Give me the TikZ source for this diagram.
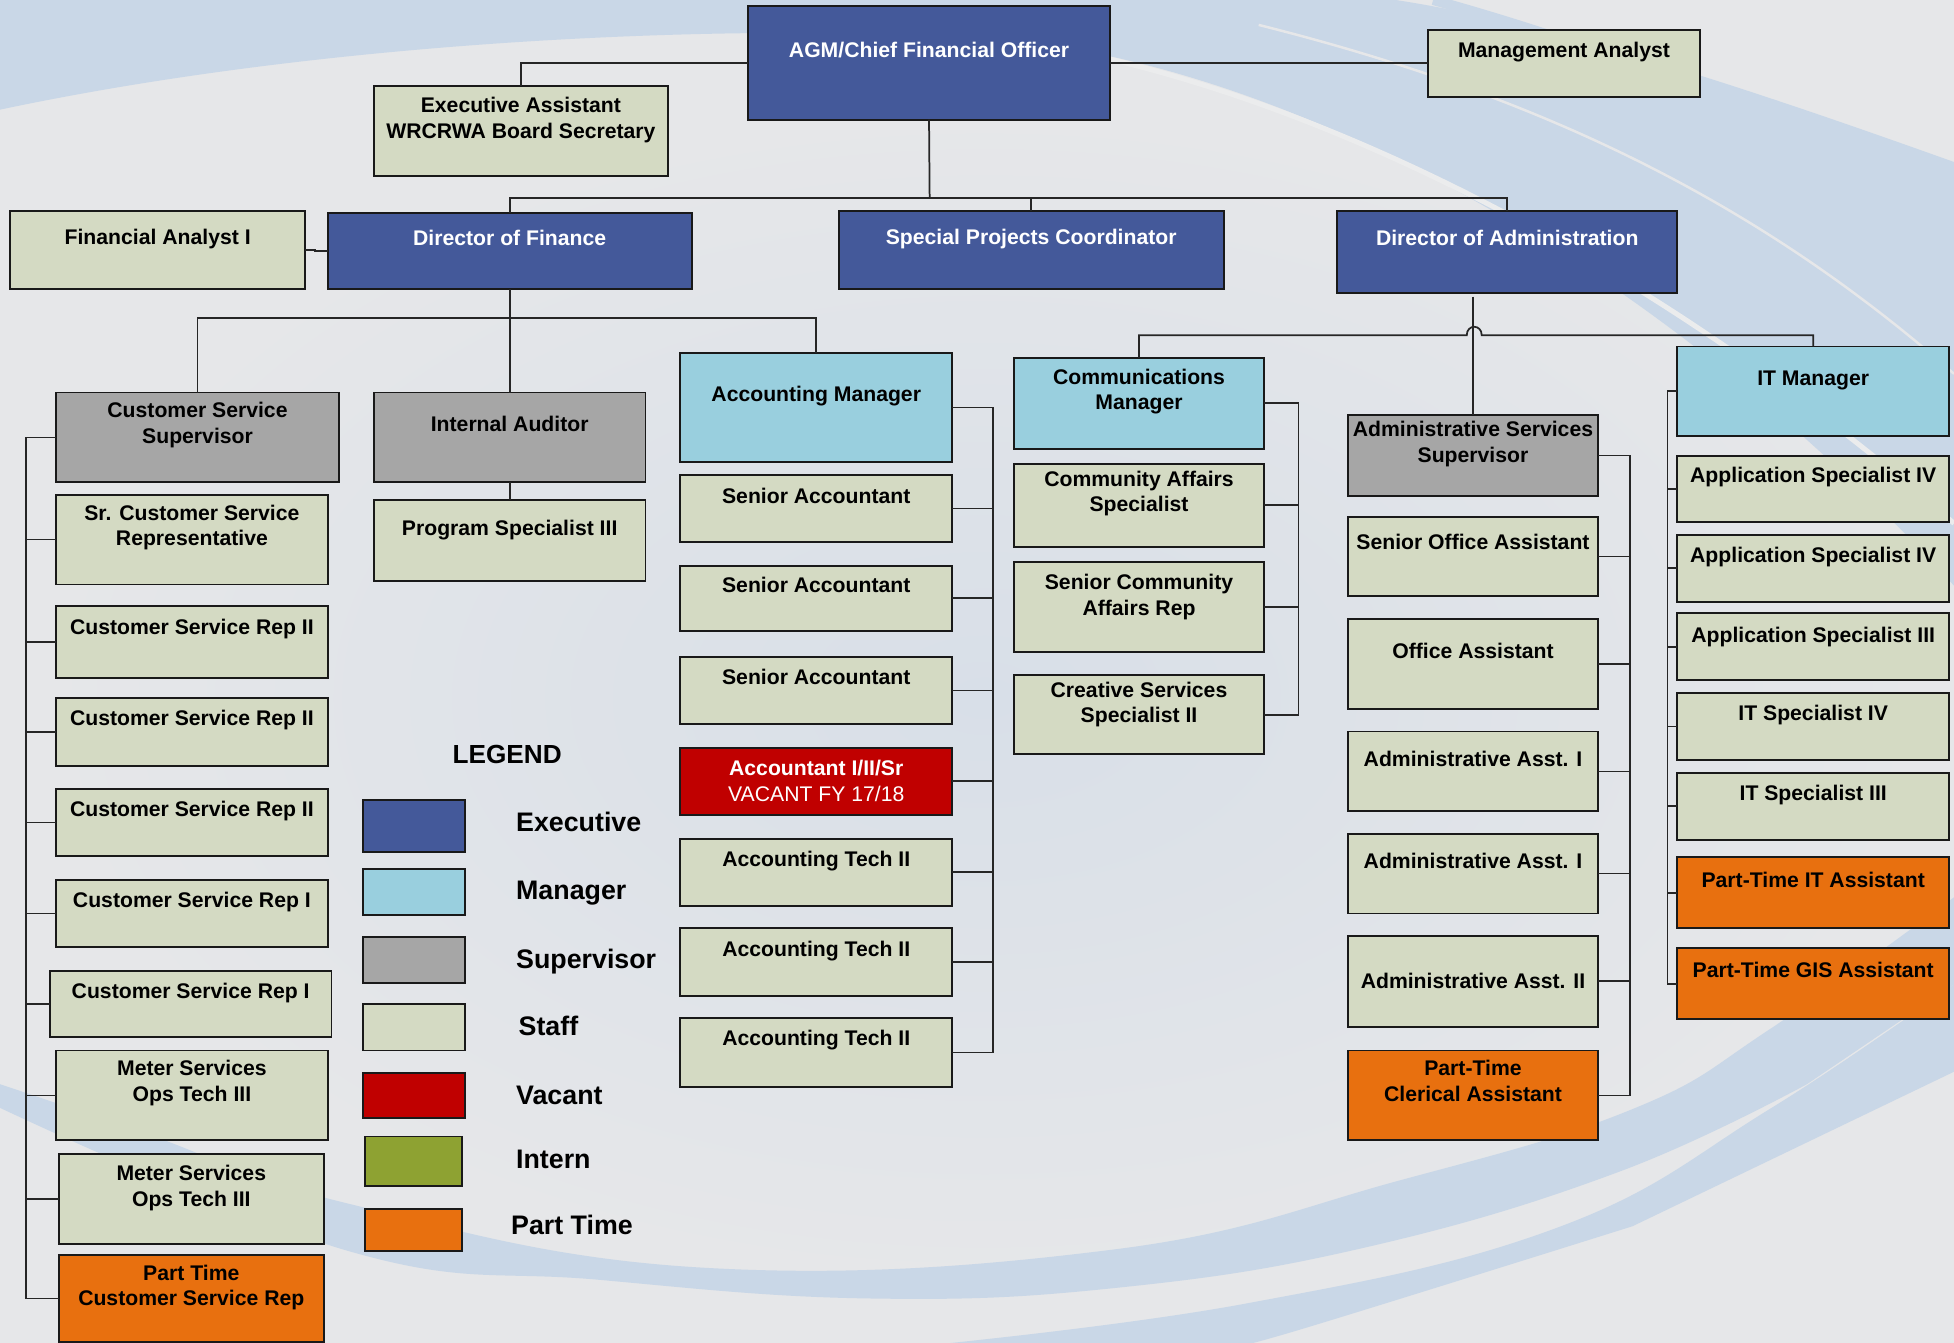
\documentclass[tikz,border=0pt]{standalone}
\usepackage{fontspec}
\setmainfont{Liberation Sans}
\usetikzlibrary{positioning}

\definecolor{execblue}{HTML}{44599A}
\definecolor{mgrblue}{HTML}{99CFDE}
\definecolor{supgray}{HTML}{A6A6A6}
\definecolor{staffgreen}{HTML}{D4DAC3}
\definecolor{vacantred}{HTML}{C00000}
\definecolor{interngreen}{HTML}{8EA232}
\definecolor{ptorange}{HTML}{E8700F}
\definecolor{bgbase}{HTML}{E6E7E9}
\definecolor{bgmid}{HTML}{D8DFE8}
\definecolor{bgband}{HTML}{C9D7E7}

\tikzstyle{line}=[draw=black!85, line width=1.4pt]
\tikzstyle{post}=[rectangle, draw=black!90, line width=1.5pt,
    inner sep=0pt, outer sep=0pt]

\newcommand{\orgbox}[9]{%
  \node[#2, anchor=north west, minimum width={(#6-#4)*1pt},
      minimum height={(#7-#5)*1pt}] (#1) at (#4,#5) {};
  \node[#3, anchor=north] (#1-txt) at ({(#4+#6)/2},#8) {#9};
}

\begin{document}
\begin{tikzpicture}
    [x=1pt,y=-1pt,
    exec/.style={post, fill=execblue},
    mgr/.style={post, fill=mgrblue},
    super/.style={post, fill=supgray},
    staff/.style={post, fill=staffgreen},
    vacant/.style={post, fill=vacantred},
    intern/.style={post, fill=interngreen},
    parttime/.style={post, fill=ptorange},
    darktxt/.style={font=\bfseries\fontsize{17}{20.5}\selectfont,
      align=center, inner sep=0pt, yshift=6.2pt, text=black},
    whitetxt/.style={darktxt, text=white},
    legendtxt/.style={font=\bfseries\fontsize{21.5}{24}\selectfont,
      inner sep=0pt, anchor=base west}]

  \useasboundingbox (0,0) rectangle (1568,1077.6);
  \begin{scope}
    \clip (0,0) rectangle (1568,1077.6);
    \fill[bgbase] (0,0) rectangle (1568,1077.6);
    \shade[inner color=bgmid, outer color=bgbase] (790,560) ellipse [x radius=760, y radius=470];
    \fill[bgband] (0,0) -- (0,88) .. controls (250,35) and (560,18) .. (790,30)
      .. controls (1050,50) and (1350,230) .. (1568,470) -- (1568,130)
      .. controls (1400,70) and (1250,20) .. (1120,0) -- cycle;
    \draw[bgbase!80!white, line width=4pt] (880,45) .. controls (1100,95) and (1350,230) .. (1568,420);
    \draw[bgbase, line width=2pt] (1010,20) .. controls (1250,80) and (1420,170) .. (1568,300);
    \draw[bgband, line width=8pt] (1150,0) .. controls (1330,50) and (1460,110) .. (1568,180);
    \fill[bgband] plot[smooth, tension=0.7] coordinates {(0,870) (118,910) (280,966) (560,1017)
        (891,1003) (1124,947) (1310,890) (1420,826) (1568,720)}
      -- (1568,790)
      -- plot[smooth, tension=0.7] coordinates {(1450,870) (1300,940) (1100,1000)
        (900,1033) (700,1042) (481,1027) (280,1004) (0,889)}
      -- cycle;
    \fill[bgband] plot[smooth, tension=0.7] coordinates {(740,1080) (1000,1046) (1250,985)
        (1420,890) (1568,790)}
      -- (1568,860)
      -- plot[smooth, tension=0.7] coordinates {(1310,984) (1043,1067) (990,1080)}
      -- cycle;
  \end{scope}

  \orgbox{cfo}{exec}{whitetxt}{600}{5}{891}{96}{40}{AGM/Chief Financial Officer}
  \orgbox{mgmt}{staff}{darktxt}{1146}{24}{1364}{78}{40}{Management Analyst}
  \orgbox{ea}{staff}{darktxt}{300}{69}{536}{141}{84}{Executive Assistant\\WRCRWA Board Secretary}
  \orgbox{fa}{staff}{darktxt}{8}{169}{245}{232}{190}{Financial Analyst I}
  \orgbox{dfin}{exec}{whitetxt}{263}{171}{555}{232}{191}{Director of Finance}
  \orgbox{spc}{exec}{whitetxt}{673}{169}{982}{232}{190}{Special Projects Coordinator}
  \orgbox{dadm}{exec}{whitetxt}{1073}{169}{1346}{235}{191}{Director of Administration}

  \orgbox{css}{super}{darktxt}{45}{315}{272}{387}{329}{Customer Service\\Supervisor}
  \orgbox{scsr}{staff}{darktxt}{45}{397}{263}{469}{411}{Sr. Customer Service\\Representative}
  \orgbox{csra}{staff}{darktxt}{45}{486}{263}{544}{503}{Customer Service Rep II}
  \orgbox{csrb}{staff}{darktxt}{45}{560}{263}{615}{576}{Customer Service Rep II}
  \orgbox{csrc}{staff}{darktxt}{45}{633}{263}{687}{649}{Customer Service Rep II}
  \orgbox{csrd}{staff}{darktxt}{45}{706}{263}{760}{722}{Customer Service Rep I}
  \orgbox{csre}{staff}{darktxt}{40}{779}{266}{832}{795}{Customer Service Rep I}
  \orgbox{msta}{staff}{darktxt}{45}{843}{263}{915}{857}{Meter Services\\Ops Tech III}
  \orgbox{mstb}{staff}{darktxt}{47}{926}{260}{998}{941}{Meter Services\\Ops Tech III}
  \orgbox{ptcsr}{parttime}{darktxt}{47}{1007}{260}{1077}{1021}{Part Time\\Customer Service Rep}

  \orgbox{ia}{super}{darktxt}{300}{315}{518}{387}{340}{Internal Auditor}
  \orgbox{ps}{staff}{darktxt}{300}{401}{518}{466}{423}{Program Specialist III}

  \orgbox{am}{mgr}{darktxt}{546}{283}{764}{371}{316}{Accounting Manager}
  \orgbox{saa}{staff}{darktxt}{546}{381}{764}{435}{398}{Senior Accountant}
  \orgbox{sab}{staff}{darktxt}{546}{454}{764}{506}{469}{Senior Accountant}
  \orgbox{sac}{staff}{darktxt}{546}{527}{764}{581}{543}{Senior Accountant}
  \orgbox{acc}{vacant}{whitetxt}{546}{600}{764}{654}{616}{Accountant I/II/Sr\\{\mdseries VACANT FY 17/18}}
  \orgbox{ata}{staff}{darktxt}{546}{673}{764}{727}{689}{Accounting Tech II}
  \orgbox{atb}{staff}{darktxt}{546}{745}{764}{799}{761}{Accounting Tech II}
  \orgbox{atc}{staff}{darktxt}{546}{817}{764}{872}{833}{Accounting Tech II}

  \orgbox{cm}{mgr}{darktxt}{814}{287}{1014}{360}{302}{Communications\\Manager}
  \orgbox{cas}{staff}{darktxt}{814}{372}{1014}{439}{384}{Community Affairs\\Specialist}
  \orgbox{scar}{staff}{darktxt}{814}{451}{1014}{523}{467}{Senior Community\\Affairs Rep}
  \orgbox{crs}{staff}{darktxt}{814}{542}{1014}{605}{553}{Creative Services\\Specialist II}

  \orgbox{ass}{super}{darktxt}{1082}{333}{1282}{398}{344}{Administrative Services\\Supervisor}
  \orgbox{soa}{staff}{darktxt}{1082}{415}{1282}{478}{435}{Senior Office Assistant}
  \orgbox{oa}{staff}{darktxt}{1082}{497}{1282}{569}{522}{Office Assistant}
  \orgbox{aaa}{staff}{darktxt}{1082}{587}{1282}{651}{609}{Administrative Asst. I}
  \orgbox{aab}{staff}{darktxt}{1082}{669}{1282}{733}{691}{Administrative Asst. I}
  \orgbox{aac}{staff}{darktxt}{1082}{751}{1282}{824}{787}{Administrative Asst. II}
  \orgbox{ptca}{parttime}{darktxt}{1082}{843}{1282}{915}{857}{Part-Time\\Clerical Assistant}

  \orgbox{itm}{mgr}{darktxt}{1346}{278}{1564}{350}{304}{IT Manager}
  \orgbox{asa}{staff}{darktxt}{1346}{366}{1564}{419}{381}{Application Specialist IV}
  \orgbox{asb}{staff}{darktxt}{1346}{429}{1564}{483}{445}{Application Specialist IV}
  \orgbox{asc}{staff}{darktxt}{1346}{492}{1564}{546}{509}{Application Specialist III}
  \orgbox{itsa}{staff}{darktxt}{1346}{556}{1564}{610}{572}{IT Specialist IV}
  \orgbox{itsb}{staff}{darktxt}{1346}{620}{1564}{674}{636}{IT Specialist III}
  \orgbox{ptit}{parttime}{darktxt}{1346}{688}{1564}{745}{706}{Part-Time IT Assistant}
  \orgbox{ptgis}{parttime}{darktxt}{1346}{761}{1564}{818}{778}{Part-Time GIS Assistant}

  \node[font=\bfseries\fontsize{21}{24}\selectfont, inner sep=0pt, anchor=base] (legend) at (407,613) {LEGEND};
  \node[exec, anchor=north west, minimum width=82pt, minimum height=42pt] (lgexec) at (291,642) {};
  \node[mgr, anchor=north west, minimum width=82pt, minimum height=37pt] (lgmgr) at (291,697) {};
  \node[super, anchor=north west, minimum width=82pt, minimum height=37pt] (lgsuper) at (291,752) {};
  \node[staff, anchor=north west, minimum width=82pt, minimum height=37pt] (lgstaff) at (291,806) {};
  \node[vacant, anchor=north west, minimum width=82pt, minimum height=36pt] (lgvacant) at (291,861) {};
  \node[intern, anchor=north west, minimum width=78pt, minimum height=40pt] (lgintern) at (293,912) {};
  \node[parttime, anchor=north west, minimum width=78pt, minimum height=34pt] (lgpart) at (293,970) {};
  \node[legendtxt] (lgexec-l) at (414,667) {Executive};
  \node[legendtxt] (lgmgr-l) at (414,722) {Manager};
  \node[legendtxt] (lgsuper-l) at (414,777) {Supervisor};
  \node[legendtxt] (lgstaff-l) at (416,831) {Staff};
  \node[legendtxt] (lgvacant-l) at (414,886) {Vacant};
  \node[legendtxt] (lgintern-l) at (414,938) {Intern};
  \node[legendtxt] (lgpart-l) at (410,991) {Part Time};

  \coordinate (toplevel) at (746,159);
  \coordinate (finlevel) at (409,255);
  \coordinate (hop) at (1183,269);
  \coordinate (csbus) at (21,0);
  \coordinate (accbus) at (797,0);
  \coordinate (combus) at (1042,0);
  \coordinate (admbus) at (1308,0);
  \coordinate (itbus) at (1338,0);

  \begin{scope}[every path/.style=line]
    \path (cfo.west) -| (ea.north);
    \path (cfo.east) -- (cfo.east -| mgmt.west);
    \path (cfo.south) -- (toplevel);
    \path (dfin.north) |- (toplevel) -| (dadm.north);
    \path (spc.north) -- (spc.north |- toplevel);
    \path (fa.east) -- ++(8,0) |- (dfin.west);
    \path (dfin.south) -- (finlevel);
    \path (css.north) |- (finlevel) -| (am.north);
    \path (ia.north) -- (ia.north |- finlevel);
    \path (ia.south) -- (ps.north);
    \path ([yshift=-3pt]ass.north |- dadm.south) -- (ass.north);
    \path (cm.north) |- ([xshift=-6pt]hop) .. controls ([xshift=-6pt,yshift=9pt]hop)
      and ([xshift=6pt,yshift=9pt]hop) .. ([xshift=6pt]hop) -| (itm.north);

    \path (css.west) -- (css.west -| csbus) -- (ptcsr.west -| csbus) -- (ptcsr.west);
    \foreach \b in {scsr,csra,csrb,csrc,csrd,csre,msta,mstb}
      \path (\b.west) -- (\b.west -| csbus);
    \path (am.east) -- (am.east -| accbus) -- (atc.east -| accbus) -- (atc.east);
    \foreach \b in {saa,sab,sac,acc,ata,atb}
      \path (\b.east) -- (\b.east -| accbus);
    \path (cm.east) -- (cm.east -| combus) -- (crs.east -| combus) -- (crs.east);
    \foreach \b in {cas,scar}
      \path (\b.east) -- (\b.east -| combus);
    \path (ass.east) -- (ass.east -| admbus) -- (ptca.east -| admbus) -- (ptca.east);
    \foreach \b in {soa,oa,aaa,aab,aac}
      \path (\b.east) -- (\b.east -| admbus);
    \path (itm.west) -- (itm.west -| itbus) -- (ptgis.west -| itbus) -- (ptgis.west);
    \foreach \b in {asa,asb,asc,itsa,itsb,ptit}
      \path (\b.west) -- (\b.west -| itbus);
  \end{scope}

\end{tikzpicture}
\end{document}
